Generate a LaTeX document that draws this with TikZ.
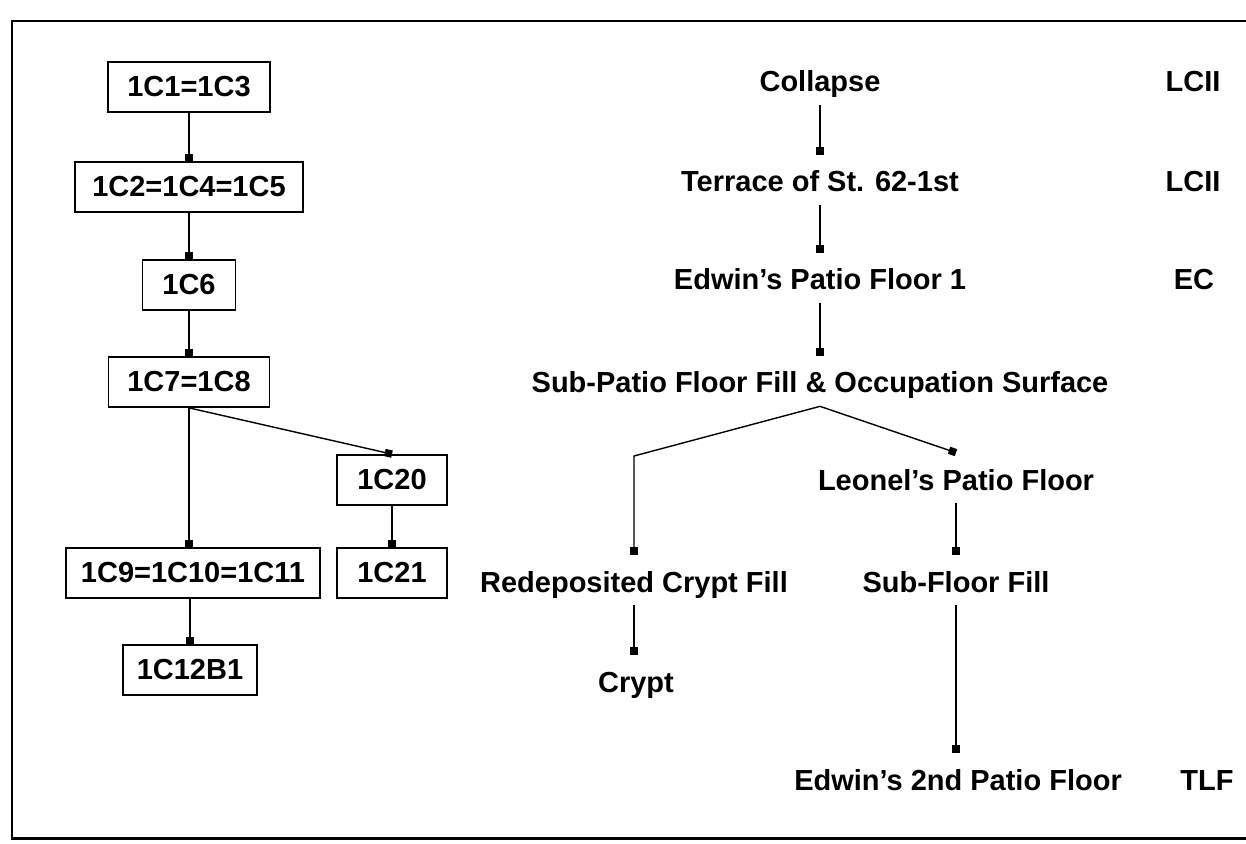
\documentclass[tikz,border=0pt]{standalone}
\usepackage{fontspec}
\setmainfont{Liberation Sans}
\usetikzlibrary{arrows.meta}
\tikzset{
  unit/.style={rectangle, draw=black, line width=1pt, minimum height=1cm, inner sep=2pt, text centered, font=\fontsize{16.5}{19}\selectfont\bfseries},
  layer/.style={inner xsep=2pt, inner ysep=0pt, text height=0.74cm, text depth=0.26cm, font=\fontsize{16.5}{19}\selectfont\bfseries},
  link/.style={-{Square[length=4.2pt, width=4.2pt]}, line width=0.8pt},
}
\begin{document}
\begin{tikzpicture}[x=0.02cm, y=-0.02cm]
\useasboundingbox (0,0) rectangle (1246,844);
\draw[line width=1.7pt] (1246,21) -- (12,21) -- (12,838) -- (1246,838);

\node[unit, minimum width=3.24cm] (c1) at (189,87) {1C1=1C3};
\node[unit, minimum width=4.56cm] (c2) at (189,187) {1C2=1C4=1C5};
\node[unit, minimum width=1.86cm] (c6) at (189,285) {1C6};
\node[unit, minimum width=3.22cm] (c7) at (189,382) {1C7=1C8};
\node[unit, minimum width=2.2cm] (c20) at (392,480) {1C20};
\node[unit, minimum width=5.08cm] (c9) at (193,573) {1C9=1C10=1C11};
\node[unit, minimum width=2.2cm] (c21) at (392,573) {1C21};
\node[unit, minimum width=2.68cm] (c12) at (190,670) {1C12B1};

\node[layer] (collapse) at (820,80) {Collapse};
\node[layer] (terrace) at (820,180) {Terrace of St. 62-1st};
\node[layer] (patio) at (820,278) {Edwin's Patio Floor 1};
\node[layer] (subpatio) at (820,381) {Sub-Patio Floor Fill \& Occupation Surface};
\node[layer] (leonel) at (956,478) {Leonel's Patio Floor};
\node[layer] (cryptfill) at (634,580) {Redeposited Crypt Fill};
\node[layer] (subfloor) at (956,580) {Sub-Floor Fill};
\node[layer] (crypt) at (636,680) {Crypt};
\node[layer] (patio2) at (958,778) {Edwin's 2nd Patio Floor};

\node[layer] (lcii1) at (1193,80) {LCII};
\node[layer] (lcii2) at (1193,180) {LCII};
\node[layer] (ec) at (1194,278) {EC};
\node[layer] (tlf) at (1207,778) {TLF};

\coordinate (bend) at (634,456);

\draw[link] (c1) -- (c2);
\draw[link] (c2) -- (c6);
\draw[link] (c6) -- (c7);
\draw[link] (c7.south) -- (c9.north -| c7.south);
\draw[link] (c7.south) -- (c20.north);
\draw[link] (c20) -- (c21);
\draw[link] (c9.south -| c12.north) -- (c12);

\draw[link] (collapse) -- (terrace);
\draw[link] (terrace) -- (patio);
\draw[link] (patio) -- (subpatio);
\draw[link] (subpatio.south) -- (bend) -- (cryptfill.north);
\draw[link] (subpatio.south) -- (leonel.north);
\draw[link] (leonel) -- (subfloor);
\draw[link] (cryptfill.south) -- (cryptfill.south |- crypt.north);
\draw[link] (subfloor.south) -- (subfloor.south |- patio2.north);
\end{tikzpicture}
\end{document}
